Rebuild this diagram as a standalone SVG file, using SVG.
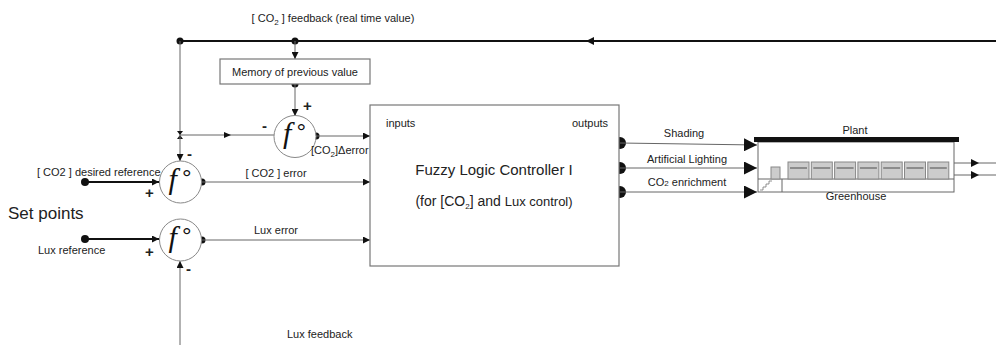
<svg xmlns="http://www.w3.org/2000/svg" width="996" height="345" viewBox="0 0 996 345">
  <style>
    text { font-family: "Liberation Sans", Arial, sans-serif; fill: #222; }
    .lbl { font-size: 11px; }
    .sign { font-size: 15px; font-weight: bold; }
    .thin { stroke: #666; stroke-width: 1; fill: none; }
    .thick { stroke: #111; stroke-width: 2; fill: none; }
    .box { fill: #fff; stroke: #777; stroke-width: 1.2; }
    .circ { fill: #fff; stroke: #888; stroke-width: 1; }
    .f { font-family: "Liberation Serif", "DejaVu Serif", serif; font-style: italic; font-size: 30px; fill: #111; }
    .deg { font-family: "Liberation Sans", sans-serif; font-size: 24px; fill: #111; }
    .dot { fill: #111; }
    .tray { fill: #ccc; stroke: #888; stroke-width: 1; }
  </style>
  <defs>
    <marker id="arr" viewBox="0 0 10 10" refX="10" refY="5" markerWidth="7" markerHeight="7" markerUnits="userSpaceOnUse" orient="auto">
      <path d="M0,0 L10,5 L0,10 z" fill="#111"/>
    </marker>
    <marker id="big" viewBox="0 0 10 10" refX="10" refY="5" markerWidth="13" markerHeight="13" markerUnits="userSpaceOnUse" orient="auto">
      <path d="M0,0 L10,5 L0,10 z" fill="#111"/>
    </marker>
  </defs>

  <!-- connectors -->
  <g id="connectors">
    <!-- CO2 feedback bus -->
    <line class="thick" x1="996" y1="41" x2="180" y2="41"/>
    <path d="M594,37 L586,41 L594,45 z" fill="#111"/>
    <circle class="dot" cx="180" cy="41" r="3.5"/>
    <circle class="dot" cx="295" cy="41" r="3.5"/>
    <line class="thin" x1="295" y1="41" x2="295" y2="59" marker-end="url(#arr)"/>
    <circle class="dot" cx="295" cy="84" r="3.5"/>
    <line class="thin" x1="295" y1="84" x2="295" y2="116" marker-end="url(#arr)"/>
    <!-- left feedback branch -->
    <line class="thin" x1="180" y1="41" x2="180" y2="135"/>
    <path d="M177,131 L183,131 L180,135 z M177,139 L183,139 L180,135 z" fill="#111"/>
    <line class="thin" x1="180" y1="135" x2="274" y2="135"/>
    <path d="M224,132 L231,135 L224,138 z" fill="#111"/>
    <line class="thin" x1="180" y1="135" x2="180" y2="161" marker-end="url(#arr)"/>
    <!-- delta error -->
    <circle class="dot" cx="316" cy="136" r="3.5"/>
    <line class="thin" x1="316" y1="136" x2="370" y2="136" marker-end="url(#arr)"/>
    <!-- CO2 reference -->
    <circle class="dot" cx="85" cy="182" r="4"/>
    <line class="thick" x1="85" y1="182" x2="159" y2="182" marker-end="url(#arr)"/>
    <circle class="dot" cx="202" cy="182" r="3.5"/>
    <line class="thin" x1="202" y1="182" x2="370" y2="182" marker-end="url(#arr)"/>
    <!-- Lux reference -->
    <circle class="dot" cx="85" cy="239" r="4"/>
    <line class="thick" x1="85" y1="239" x2="159" y2="239" marker-end="url(#arr)"/>
    <circle class="dot" cx="202" cy="240" r="3.5"/>
    <line class="thin" x1="202" y1="240" x2="370" y2="240" marker-end="url(#arr)"/>
    <!-- Lux feedback -->
    <line class="thin" x1="180" y1="345" x2="180" y2="261" marker-end="url(#arr)"/>
    <!-- controller outputs -->
    <circle class="dot" cx="620" cy="143" r="6"/>
    <circle class="dot" cx="620" cy="168" r="6"/>
    <circle class="dot" cx="620" cy="192" r="6"/>
    <line class="thin" x1="620" y1="143" x2="757" y2="145" marker-end="url(#big)"/>
    <line class="thin" x1="620" y1="168" x2="757" y2="168" marker-end="url(#big)"/>
    <line class="thin" x1="620" y1="192" x2="757" y2="192" marker-end="url(#big)"/>
    <!-- greenhouse outputs -->
    <line class="thin" x1="954" y1="163" x2="996" y2="163"/>
    <line class="thin" x1="954" y1="175" x2="996" y2="175"/>
    <path d="M971,159 L979,163 L971,167 z M971,171 L979,175 L971,179 z" fill="#111"/>
  </g>

  <text class="lbl" x="333" y="22" text-anchor="middle">[ CO<tspan font-size="8" dy="3">2</tspan><tspan dy="-3"> ]  feedback  (real time value)</tspan></text>

  <g id="memory">
    <rect class="box" x="220" y="59" width="150" height="25"/>
    <text class="lbl" x="295" y="76" text-anchor="middle">Memory of previous value</text>
  </g>

  <g id="sum-delta">
    <circle class="circ" cx="295" cy="136.5" r="21"/>
    <text class="f" x="283" y="143">f</text>
    <text class="deg" x="296.5" y="140">°</text>
    <text class="sign" x="303" y="111">+</text>
    <text class="sign" x="262" y="131">-</text>
    <text class="lbl" x="311" y="154">[CO<tspan font-size="8" dy="3">2</tspan><tspan dy="-3">]Δerror</tspan></text>
  </g>

  <g id="sum-co2">
    <circle class="circ" cx="180.5" cy="182" r="21"/>
    <text class="f" x="168.5" y="188.5">f</text>
    <text class="deg" x="182" y="185.5">°</text>
    <text class="sign" x="187" y="159">-</text>
    <text class="sign" x="145" y="198">+</text>
    <text class="lbl" x="37" y="176">[ CO2 ] desired reference</text>
    <text class="lbl" x="276" y="177" text-anchor="middle">[ CO2 ] error</text>
  </g>

  <text x="8" y="219" font-size="17">Set points</text>

  <g id="sum-lux">
    <circle class="circ" cx="180.5" cy="240" r="21"/>
    <text class="f" x="168.5" y="246.5">f</text>
    <text class="deg" x="182" y="243.5">°</text>
    <text class="sign" x="145" y="257">+</text>
    <text class="sign" x="186" y="274">-</text>
    <text class="lbl" x="38" y="254">Lux reference</text>
    <text class="lbl" x="276" y="234" text-anchor="middle">Lux error</text>
    <text class="lbl" x="287" y="338">Lux feedback</text>
  </g>

  <g id="controller">
    <rect class="box" x="370" y="105" width="249" height="161"/>
    <text class="lbl" x="386" y="127">inputs</text>
    <text class="lbl" x="572" y="127">outputs</text>
    <text x="494" y="175" font-size="15" text-anchor="middle">Fuzzy Logic Controller I</text>
    <text x="494" y="206" font-size="14" text-anchor="middle">(for  [CO<tspan font-size="8" dy="3">2</tspan><tspan dy="-3">]  and </tspan><tspan font-size="13">Lux control)</tspan></text>
    <text class="lbl" x="684" y="137" text-anchor="middle">Shading</text>
    <text class="lbl" x="687" y="163" text-anchor="middle">Artificial Lighting</text>
    <text class="lbl" x="687" y="186" text-anchor="middle">CO<tspan font-size="8">2</tspan> enrichment</text>
  </g>

  <g id="greenhouse">
    <text class="lbl" x="855" y="134" text-anchor="middle">Plant</text>
    <rect x="758" y="142" width="196" height="50" fill="#fff" stroke="#666" stroke-width="1"/>
    <rect x="754" y="137" width="205" height="5" fill="#111"/>
    <line x1="758" y1="179" x2="954" y2="179" stroke="#666" stroke-width="1"/>
    <line x1="782" y1="179" x2="782" y2="192" stroke="#666" stroke-width="1"/>
    <path d="M760,190 L763,190 L763,187 L766,187 L766,184 L769,184 L769,181 L772,181" fill="none" stroke="#777" stroke-width="0.8"/>
    <rect class="tray" x="771" y="167" width="9" height="12"/>
    <g id="trays">
      <rect class="tray" x="788" y="162" width="21" height="17"/>
      <rect class="tray" x="811.3" y="162" width="21" height="17"/>
      <rect class="tray" x="834.6" y="162" width="21" height="17"/>
      <rect class="tray" x="857.9" y="162" width="21" height="17"/>
      <rect class="tray" x="881.2" y="162" width="21" height="17"/>
      <rect class="tray" x="904.5" y="162" width="21" height="17"/>
      <rect class="tray" x="927.8" y="162" width="21" height="17"/>
      <path d="M790,168 h17 M813.3,168 h17 M836.6,168 h17 M859.9,168 h17 M883.2,168 h17 M906.5,168 h17 M929.8,168 h17" stroke="#777" stroke-width="1.5"/>
    </g>
    <text class="lbl" x="856" y="200" text-anchor="middle">Greenhouse</text>
  </g>
</svg>
